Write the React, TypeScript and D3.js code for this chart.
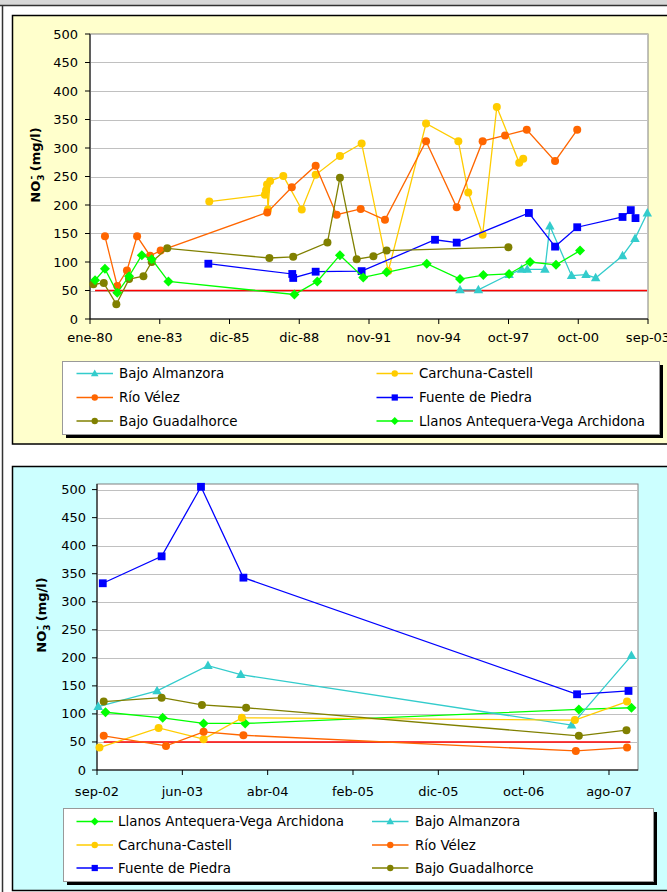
import React from "react";
import * as d3 from "d3";

const FONT = "'DejaVu Sans', Verdana, sans-serif";

const C_ALM = "#33CCCC";
const C_CAR = "#FFCC00";
const C_VEL = "#FF6600";
const C_FUE = "#0000FF";
const C_GUA = "#808000";
const C_LLA = "#00FF00";
const C_LIM = "#FF0000";

const yTicks = [0, 50, 100, 150, 200, 250, 300, 350, 400, 450, 500];

// ---------- Top chart (1980-2003) ----------
const topTickDates = ["1980-01-25", "1983-01-09", "1985-12-24", "1988-12-08", "1991-11-23", "1994-11-07", "1997-10-22", "2000-10-06", "2003-09-21"];
const topTickLabels = ["ene-80", "ene-83", "dic-85", "dic-88", "nov-91", "nov-94", "oct-97", "oct-00", "sep-03"];

const topAlmDates = [1995.75, 1996.53, 1997.83, 1998.36, 1998.6, 1999.35, 1999.56, 2000.48, 2001.09, 2001.5, 2002.64, 2003.17, 2003.69];
const topAlmValues = [51, 51, 78, 87, 87, 87, 163, 76, 78, 72, 111, 141, 186];

const topCarDates = [1985.12, 1987.48, 1987.53, 1987.57, 1987.61, 1987.7, 1988.26, 1989.04, 1989.63, 1990.66, 1991.58, 1992.71, 1994.31, 1995.68, 1996.1, 1996.71, 1997.31, 1998.26, 1998.43];
const topCarValues = [206, 218, 226, 236, 192, 242, 251, 192, 253, 286, 308, 84, 343, 312, 222, 148, 372, 274, 281];

const topVelDates = [1980.7, 1981.22, 1981.63, 1982.06, 1982.61, 1983.06, 1987.58, 1988.62, 1989.63, 1990.52, 1991.54, 1992.57, 1994.31, 1995.61, 1996.71, 1997.66, 1998.58, 1999.78, 2000.72];
const topVelValues = [145, 58, 85, 145, 111, 120, 187, 231, 269, 183, 193, 174, 312, 196, 312, 322, 332, 277, 332];

const topFueDates = [1985.08, 1988.64, 1988.68, 1989.63, 1991.58, 1994.69, 1995.61, 1998.67, 1999.78, 2000.72, 2002.64, 2002.99, 2003.19];
const topFueValues = [97, 79, 72, 83, 84, 139, 134, 186, 127, 161, 179, 191, 177];

const topGuaDates = [1980.21, 1980.65, 1981.18, 1981.72, 1982.33, 1982.68, 1983.34, 1987.67, 1988.68, 1990.13, 1990.66, 1991.37, 1992.08, 1992.64, 1997.8];
const topGuaValues = [61, 63, 26, 70, 75, 100, 124, 107, 109, 134, 248, 105, 110, 120, 126];

const topLlaDates = [1980.28, 1980.7, 1981.22, 1981.72, 1982.26, 1982.68, 1983.39, 1988.73, 1989.7, 1990.66, 1991.65, 1992.64, 1994.34, 1995.75, 1996.74, 1997.83, 1998.72, 1999.82, 2000.84];
const topLlaValues = [68, 88, 46, 75, 112, 105, 66, 43, 66, 112, 73, 82, 97, 70, 77, 79, 100, 95, 120];

const topLimitDates = [1980.28, 2003.68];
const topLimitValues = [50, 50];

// ---------- Bottom chart (2002-2007) ----------
const botTickDates = ["2002-09-01", "2003-06-28", "2004-04-23", "2005-02-17", "2005-12-14", "2006-10-10", "2007-08-06"];
const botTickLabels = ["sep-02", "jun-03", "abr-04", "feb-05", "dic-05", "oct-06", "ago-07"];

const botLlaDates = [2002.747, 2003.298, 2003.692, 2004.093, 2007.304, 2007.81];
const botLlaValues = [103, 93, 83, 83, 108, 111];
const botAlmDates = [2002.677, 2003.244, 2003.734, 2004.051, 2007.234, 2007.81];
const botAlmValues = [113, 141, 186, 170, 80, 204];
const botCarDates = [2002.689, 2003.259, 2003.692, 2004.061, 2007.266, 2007.768];
const botCarValues = [40, 75, 55, 93, 89, 122];
const botVelDates = [2002.73, 2003.33, 2003.692, 2004.076, 2007.275, 2007.768];
const botVelValues = [61, 43, 68, 62, 34, 40];
const botFueDates = [2002.721, 2003.288, 2003.667, 2004.076, 2007.287, 2007.782];
const botFueValues = [333, 381, 505, 343, 135, 141];
const botGuaDates = [2002.73, 2003.288, 2003.676, 2004.102, 2007.304, 2007.762];
const botGuaValues = [122, 129, 116, 111, 61, 71];
const botLimitDates = [2002.73, 2007.8];
const botLimitValues = [50, 50];

type Shape = "circle" | "square" | "triangle" | "diamond";
interface Series { name: string; color: string; shape: Shape; dates: number[]; values: number[] }

const parse = d3.utcParse("%Y-%m-%d");
const dec = (yr: number) => {
  const y0 = Math.floor(yr);
  return new Date(Date.UTC(y0, 0, 1) + (yr - y0) * 365.25 * 86400000);
};

const topSeries: Series[] = [
  { name: "Bajo Almanzora", color: C_ALM, shape: "triangle", dates: topAlmDates, values: topAlmValues },
  { name: "Carchuna-Castell", color: C_CAR, shape: "circle", dates: topCarDates, values: topCarValues },
  { name: "Río Vélez", color: C_VEL, shape: "circle", dates: topVelDates, values: topVelValues },
  { name: "Fuente de Piedra", color: C_FUE, shape: "square", dates: topFueDates, values: topFueValues },
  { name: "Bajo Guadalhorce", color: C_GUA, shape: "circle", dates: topGuaDates, values: topGuaValues },
  { name: "Llanos Antequera-Vega Archidona", color: C_LLA, shape: "diamond", dates: topLlaDates, values: topLlaValues },
];

const botSeries: Series[] = [
  { name: "Llanos Antequera-Vega Archidona", color: C_LLA, shape: "diamond", dates: botLlaDates, values: botLlaValues },
  { name: "Bajo Almanzora", color: C_ALM, shape: "triangle", dates: botAlmDates, values: botAlmValues },
  { name: "Carchuna-Castell", color: C_CAR, shape: "circle", dates: botCarDates, values: botCarValues },
  { name: "Río Vélez", color: C_VEL, shape: "circle", dates: botVelDates, values: botVelValues },
  { name: "Fuente de Piedra", color: C_FUE, shape: "square", dates: botFueDates, values: botFueValues },
  { name: "Bajo Guadalhorce", color: C_GUA, shape: "circle", dates: botGuaDates, values: botGuaValues },
];

function Marker({ shape, x, y, color, k = 1 }: { shape: Shape; x: number; y: number; color: string; k?: number }) {
  if (shape === "circle") return <circle cx={x} cy={y} r={4 * k} fill={color} />;
  if (shape === "square") {
    const s = 7.8 * k;
    return <rect x={x - s / 2} y={y - s / 2} width={s} height={s} fill={color} />;
  }
  if (shape === "triangle") {
    const w = 9.5 * k, h = 8.5 * k;
    return <polygon points={`${x},${y - h * 0.6} ${x - w / 2},${y + h * 0.4} ${x + w / 2},${y + h * 0.4}`} fill={color} />;
  }
  const r = 5 * k;
  return <polygon points={`${x},${y - r} ${x + r},${y} ${x},${y + r} ${x - r},${y}`} fill={color} />;
}

interface PanelProps {
  left: number; right: number; top: number; bottom: number;
  xStart: string; xEnd: string; yMax: number;
  tickDates: string[]; tickLabels: string[];
  series: Series[]; limitDates: number[]; limitValues: number[];
  yLabelX: number; yLabelY: number; yTickX: number; xLabelY: number;
}

function ChartPanel(p: PanelProps) {
  const x = d3.scaleUtc().domain([parse(p.xStart)!, parse(p.xEnd)!]).range([p.left, p.right]);
  const y = d3.scaleLinear().domain([0, p.yMax]).range([p.bottom, p.top]);
  const line = d3.line<[Date, number]>().x((d) => x(d[0])).y((d) => y(d[1]));
  const pts = (dates: number[], values: number[]) => dates.map((d, i) => [dec(d), values[i]] as [Date, number]);
  return (
    <g>
      <rect x={p.left} y={p.top} width={p.right - p.left} height={p.bottom - p.top} fill="#fff" stroke="#808080" strokeWidth={1} />
      {yTicks.filter((t) => t > 0).map((t) => (
        <line key={t} x1={p.left} x2={p.right} y1={Math.round(y(t)) + 0.5} y2={Math.round(y(t)) + 0.5} stroke="#C0C0C0" strokeWidth={1} />
      ))}
      <line x1={p.left} x2={p.left} y1={p.top} y2={p.bottom} stroke="#000" strokeWidth={1} />
      <line x1={p.left} x2={p.right} y1={p.bottom} y2={p.bottom} stroke="#000" strokeWidth={1} />
      {yTicks.map((t) => (
        <g key={t}>
          <line x1={p.left - 5} x2={p.left} y1={y(t)} y2={y(t)} stroke="#000" strokeWidth={1} />
          <text x={p.yTickX} y={y(t)} textAnchor="end" dominantBaseline="central" fontSize={13} fontFamily={FONT} fill="#000">{t}</text>
        </g>
      ))}
      {p.tickDates.map((td, i) => {
        const xx = x(parse(td)!);
        return (
          <g key={td}>
            <line x1={xx} x2={xx} y1={p.bottom} y2={p.bottom + 5} stroke="#000" strokeWidth={1} />
            <text x={xx} y={p.xLabelY} textAnchor="middle" fontSize={13} fontFamily={FONT} fill="#000">{p.tickLabels[i]}</text>
          </g>
        );
      })}
      <path d={line(pts(p.limitDates, p.limitValues)) || ""} fill="none" stroke={C_LIM} strokeWidth={1.6} />
      {p.series.map((s) => {
        const data = pts(s.dates, s.values);
        return (
          <g key={s.name}>
            <path d={line(data) || ""} fill="none" stroke={s.color} strokeWidth={1.3} />
            {data.map((d, i) => (
              <Marker key={i} shape={s.shape} x={x(d[0])} y={y(d[1])} color={s.color} />
            ))}
          </g>
        );
      })}
      <text transform={`translate(${p.yLabelX},${p.yLabelY}) rotate(-90)`} textAnchor="middle" fontSize={13} fontWeight="bold" fontFamily={FONT} fill="#000">
        NO<tspan fontSize={9} dy={4}>3</tspan><tspan fontSize={9} dx={-5} dy={-10}>-</tspan><tspan dy={6}> (mg/l)</tspan>
      </text>
    </g>
  );
}

function Legend({ x0, y0, w, h, series, rows, lineX, textX }: { x0: number; y0: number; w: number; h: number; series: Series[]; rows: number[]; lineX: [number, number][]; textX: number[] }) {
  return (
    <g>
      <rect x={x0 + 4} y={y0 + 4} width={w} height={h} fill="#000" />
      <rect x={x0 + 0.5} y={y0 + 0.5} width={w} height={h} fill="#fff" stroke="#999" strokeWidth={1} />
      {series.map((s, i) => {
        const col = i % 2;
        const row = Math.floor(i / 2);
        const yy = rows[row];
        const [a, b] = lineX[col];
        return (
          <g key={s.name + i}>
            <line x1={a} x2={b} y1={yy} y2={yy} stroke={s.color} strokeWidth={1.3} />
            <Marker shape={s.shape} x={(a + b) / 2} y={yy} color={s.color} k={0.8} />
            <text x={textX[col]} y={yy} dominantBaseline="central" fontSize={13.4} fontFamily={FONT} fill="#000">{s.name}</text>
          </g>
        );
      })}
    </g>
  );
}

export default function App() {
  return (
    <svg width={667} height={892} viewBox="0 0 667 892" style={{ position: "absolute", left: 0, top: 0, background: "#fff" }}>
      <rect x={0} y={0} width={667} height={5} fill="#D8D8D8" />
      <line x1={0} x2={667} y1={5.5} y2={5.5} stroke="#333" strokeWidth={1.5} />
      <line x1={2.5} x2={2.5} y1={5} y2={892} stroke="#333" strokeWidth={1.5} />

      <rect x={12.5} y={15.5} width={700} height={428.5} fill="#FFFFCC" stroke="#000" strokeWidth={1.5} />
      <ChartPanel left={90} right={648} top={34} bottom={319} xStart="1980-01-25" xEnd="2003-09-21" yMax={500}
        tickDates={topTickDates} tickLabels={topTickLabels} series={topSeries}
        limitDates={topLimitDates} limitValues={topLimitValues}
        yLabelX={40} yLabelY={165} yTickX={78} xLabelY={342} />
      <Legend x0={62} y0={361} w={597} h={73} series={topSeries} rows={[373.5, 397.5, 421]}
        lineX={[[76.5, 113], [376.5, 413]]} textX={[119, 419]} />

      <rect x={12.5} y={466.5} width={700} height={424} fill="#CCFFFF" stroke="#000" strokeWidth={1.5} />
      <ChartPanel left={97} right={638} top={484} bottom={770} xStart="2002-09-01" xEnd="2007-11-16" yMax={510}
        tickDates={botTickDates} tickLabels={botTickLabels} series={botSeries}
        limitDates={botLimitDates} limitValues={botLimitValues}
        yLabelX={46} yLabelY={615} yTickX={86} xLabelY={796} />
      <Legend x0={63} y0={808} w={590} h={73} series={botSeries} rows={[821.5, 845, 868]}
        lineX={[[76.5, 113], [372, 408.5]]} textX={[118, 415]} />
    </svg>
  );
}
